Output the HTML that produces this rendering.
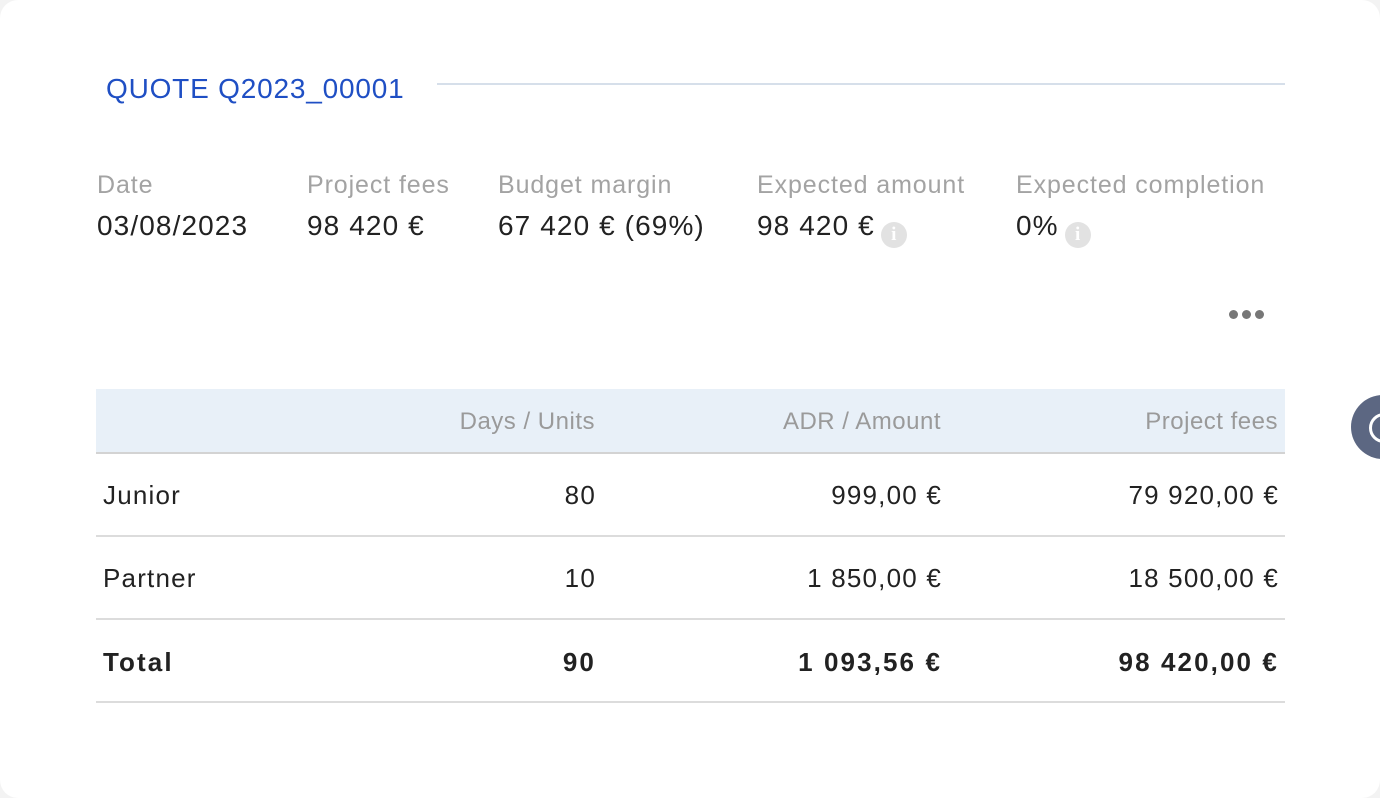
<!DOCTYPE html>
<html><head><style>
body{margin:0;width:1380px;height:798px;background:#f3f3f3;font-family:"Liberation Sans",sans-serif;position:relative;overflow:hidden}
.card{position:absolute;left:0;top:0;width:1380px;height:798px;background:#fff;border-radius:18px}
.t{position:absolute;white-space:nowrap}
.title{left:106px;top:73px;font-size:28px;color:#1f4fc4;letter-spacing:0.8px}
.hl{position:absolute;left:437px;top:83px;width:848px;height:2px;background:#d6dfea}
.lab{top:171px;font-size:25px;color:#a3a3a3;letter-spacing:0.9px}
.val{top:210px;font-size:28px;color:#222;letter-spacing:1.1px}
.info{display:inline-block;width:26px;height:26px;border-radius:50%;background:#e2e2e2;color:#fff;font-size:19px;font-weight:bold;text-align:center;line-height:26px;vertical-align:-5px;margin-left:6px;letter-spacing:0;font-family:"Liberation Serif",serif}
.dot{position:absolute;top:310px;width:9px;height:9px;border-radius:50%;background:#777}
.hdr{position:absolute;left:96px;top:389px;width:1189px;height:63px;background:#e8f0f8;border-bottom:2px solid #d3d3d3}
.line{position:absolute;left:96px;width:1189px;height:2px;background:#dcdcdc}
.c{font-size:26px;color:#222;letter-spacing:1.2px}
.h{font-size:24px;color:#9a9a9a;letter-spacing:0.5px}
.r1{right:784px}.r2{right:438px}.r3{right:101px}
.h.r1{right:785px}.h.r2{right:439px}.h.r3{right:102px}
b{font-weight:bold;letter-spacing:2.1px}
</style></head><body>
<div class="card">
<div class="t title">QUOTE Q2023_00001</div>
<div class="hl"></div>
<div class="t lab" style="left:97px">Date</div>
<div class="t lab" style="left:307px">Project fees</div>
<div class="t lab" style="left:498px">Budget margin</div>
<div class="t lab" style="left:757px">Expected amount</div>
<div class="t lab" style="left:1016px">Expected completion</div>
<div class="t val" style="left:97px">03/08/2023</div>
<div class="t val" style="left:307px">98 420 €</div>
<div class="t val" style="left:498px">67 420 € (69%)</div>
<div class="t val" style="left:757px">98 420 €<span class="info">i</span></div>
<div class="t val" style="left:1016px">0%<span class="info">i</span></div>
<div class="dot" style="left:1229px"></div><div class="dot" style="left:1242px"></div><div class="dot" style="left:1255px"></div>
<div class="hdr"></div>
<div class="t h r1" style="top:408px">Days / Units</div>
<div class="t h r2" style="top:408px">ADR / Amount</div>
<div class="t h r3" style="top:408px">Project fees</div>
<div class="t c" style="left:103px;top:480px">Junior</div>
<div class="t c r1" style="top:480px">80</div>
<div class="t c r2" style="top:480px">999,00 €</div>
<div class="t c r3" style="top:480px">79 920,00 €</div>
<div class="line" style="top:535px"></div>
<div class="t c" style="left:103px;top:563px">Partner</div>
<div class="t c r1" style="top:563px">10</div>
<div class="t c r2" style="top:563px">1 850,00 €</div>
<div class="t c r3" style="top:563px">18 500,00 €</div>
<div class="line" style="top:618px"></div>
<div class="t c" style="left:103px;top:647px"><b>Total</b></div>
<div class="t c r1" style="top:647px"><b>90</b></div>
<div class="t c r2" style="top:647px"><b>1 093,56 €</b></div>
<div class="t c r3" style="top:647px"><b>98 420,00 €</b></div>
<div class="line" style="top:701px"></div>
</div>
<div style="position:absolute;left:1351px;top:395px;width:64px;height:64px;border-radius:50%;background:#5c6782"></div>
<div style="position:absolute;left:1369px;top:413px;width:24px;height:24px;border-radius:50%;border:3px solid #fff"></div>
</body></html>
